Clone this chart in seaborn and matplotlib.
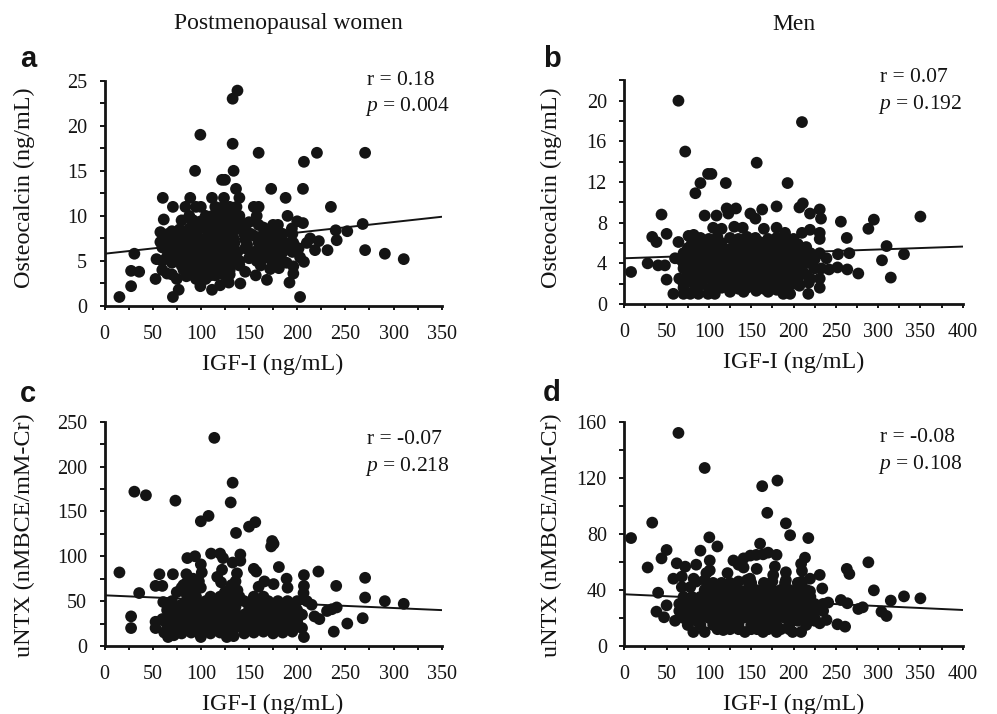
import matplotlib
matplotlib.use("Agg")
import matplotlib.pyplot as plt
import seaborn as sns
import pandas as pd
from matplotlib.ticker import MultipleLocator

# Panel a: postmenopausal women, osteocalcin vs IGF-I
a_igf = [15.5,27.6,27.6,36,31,53,54,58,58,61.5,
         60.5,71,71,77,89,94,99.5,133,138,133,
         160,134,122,125,136.5,140,111.6,124,173,188,
         206,207,220.5,270.5,235,190,268,240,252,241,
         270.5,291,310.6,203,192,231.5,222.5,213.5,210,218.5,
         207,203,201.5,206,200,194.5,196,196,189,181,
         174,172,168.6,157,162,150,146,141,129,120,
         111.6,99.5,
         84,95,100,115,123,130,137,155,160,
         88,92,105,112,120,128,135,140,158,
         100,108,118,125,132,138,160,165,175,180,
         70,80,85,95,110,120,130,145,152,170,178,185,195,
         62,68,75,82,90,98,105,115,125,135,160,172,180,188,196,
         70,78,85,92,100,110,118,128,138,155,165,175,185,195,
         72,85,92,100,108,115,122,132,140,165,
         60,65,82,90,98,105,112,120,130,140,
         75,85,95,105,115,125,70,
         80,90,100,110,120,130,140,150,
         78,88,96,106,116,126,136,146,
         74,84,94,104,114,124,134,146,166,176,
         66,82,96,106,114,124,132,146,168,182,192,
         76,88,96,104,112,120,128,136,172,180,
         80,88,96,104,112,120,128,
         90,100,110,120,130,
         148,152,158,162,155,165,170,178,185,190,60,65,70,60,66]
a_ost = [1.0,2.2,3.9,3.8,5.8,3.0,5.2,8.2,7.1,9.6,
         12,11,1.0,1.8,12,15,19,23,23.9,18,
         17,15,14,14,13,12,12,12,13,12,
         13,16,17,17,11,10,9.1,8.4,8.3,7.3,
         6.2,5.8,5.2,1.0,2.6,6.2,7.2,7.5,7.0,6.2,
         4.9,5.4,6.4,9.2,9.4,8.6,3.6,4.4,4.8,4.2,
         4.9,4.1,2.9,3.4,4.5,5.3,3.8,2.5,2.6,2.3,
         1.8,2.2,
         11,11,11,11,11,11,11,11,11,
         10,9.5,10,10,10,10,10,10,10,
         9,9,9,9,9,9,9,8.7,9,9,
         8.3,8,8.2,8,8,8,8,8,8,8,8,8,8,
         7,7,7,7,7,7,7,7,7,7,7,7,7,7,7,
         6,6,6,6,6,6,6,6,6,6,6,6,6,6,
         5,5,5,5,5,5,5,5,5,5.3,
         4,3.6,4,4,4,4,4,4,4,4.5,
         3,3.3,3,3,3.4,3.4,3.5,
         9.5,9.6,9.4,9.5,9.6,9.4,9.5,9.3,
         8.5,8.6,8.4,8.5,8.6,8.4,8.5,8.6,
         7.5,7.4,7.6,7.5,7.4,7.6,7.5,7.4,7.5,7.6,
         6.5,6.6,6.4,6.5,6.6,6.4,6.5,6.4,6.5,6.4,6.6,
         5.5,5.6,5.4,5.5,5.6,5.4,5.5,5.6,5.4,5.6,
         4.5,4.6,4.4,4.5,4.6,4.4,4.5,
         3.5,3.6,3.4,3.6,3.5,
         6.8,5.5,5,6,7.8,8,6.5,5.5,5,6.5,6.5,5.5,4.8,5,8]

# Panel b: men, osteocalcin vs IGF-I
b_igf = [8,27.6,40,48,38,33,44,50,50,58,
         64,72,84,90,99,103,120,156.5,193,210,
         207,211,180,163,149,155,121,132,123,95,
         109,219.5,231,232.5,256,263,288.5,295,350,310,
         330.6,304.6,315,276.6,263.6,252,242,233,231,231,
         217.5,218,207,196,188,266,252.6,239,231,231,
         231,219.5,210,70,78,87.5,99,107,64,76,82,
         105,115,130,140,165,180,190,
         90,100,110,125,135,145,155,170,180,190,200,
         75,85,95,105,115,125,135,145,155,165,175,185,195,205,215,
         60,66,75,85,95,105,115,125,135,145,155,165,175,185,195,205,215,225,
         70,80,90,100,110,120,130,140,150,160,170,180,190,200,210,225,
         65,75,85,95,105,115,125,135,145,155,165,175,185,195,205,220,
         70,85,100,115,125,135,145,155,165,175,185,
         125,141,156,170,180,
         80,95,105,115,130,140,150,160,175,185,195,205,
         70,80,90,100,110,120,130,140,150,160,170,180,190,200,210,220,
         70,80,90,100,110,120,130,140,150,160,170,180,190,200,210,220,
         75,85,95,105,115,125,135,145,155,165,175,185,195,205,215,
         70,80,90,105,120,130,140,150,160,170,180,190,200]
b_ost = [3.15,4,3.8,3.8,6.1,6.6,8.8,6.9,2.4,1,
         20,15,10.9,11.9,12.8,12.8,11.9,13.9,11.9,17.9,
         9.5,9.9,9.6,9.3,8.9,8.4,9.4,9.4,8.9,8.7,
         8.7,8.9,9.3,8.4,8.1,6.5,7.4,8.3,8.6,5.7,
         4.9,4.3,2.6,3,3.4,3.6,3.4,3.5,2.5,1.6,
         1,2.1,1.8,1,1,5,4.9,4.5,5,7,
         6.4,7.3,7,1,1,1,1,1,6.1,6.7,6.8,
         7.5,7.4,7.6,7.5,7.4,7.5,7,
         6.5,6.4,6.6,6.5,6.4,6.6,6.5,6.4,6.5,6.6,6.4,
         5.5,5.6,5.4,5.5,5.6,5.4,5.5,5.6,5.4,5.5,5.6,5.5,5.4,5.5,5.6,
         4.5,4.4,4.5,4.6,4.5,4.4,4.5,4.6,4.5,4.4,4.5,4.6,4.5,4.4,4.5,4.6,4.5,4.4,
         3.5,3.6,3.4,3.5,3.6,3.4,3.5,3.6,3.4,3.5,3.6,3.4,3.5,3.6,3.4,3.5,
         2.5,2.6,2.4,2.5,2.6,2.4,2.5,2.6,2.4,2.5,2.6,2.4,2.5,2.6,2.4,2.5,
         1.6,1.7,1.5,1.6,1.7,1.5,1.6,1.7,1.5,1.6,1.7,
         1.2,1.2,1.3,1.2,1.4,
         6,6.1,5.9,6,6.1,5.9,6,6.1,5.9,6,6.1,5.9,
         5,5.1,4.9,5,5.1,4.9,5,5.1,4.9,5,5.1,4.9,5,5.1,4.9,5,
         4,4.1,3.9,4,4.1,3.9,4,4.1,3.9,4,4.1,3.9,4,4.1,3.9,4,
         3,3.1,2.9,3,3.1,2.9,3,3.1,2.9,3,3.1,2.9,3,3.1,2.9,
         2,2.1,1.9,2,2.1,1.9,2,2.1,1.9,2,2.1,1.9,2]

# Panel c: postmenopausal women, uNTX vs IGF-I
c_igf = [15.5,27.6,27.6,31,43,73.6,36,114,133,131,
         100,108,136.5,150,156.5,174,175.5,173,181,189,
         190,207,207,206.6,222,240.5,270.5,270.5,291,310.6,
         268,252,238,241,236,231,223,218,215,207,
         86,94,110.6,120,123,141,133,141,155,157.5,
         166,160,175.5,57,71,53,60,61,53,53,
         66,72,100,127,134,100,101,117,122,121,
         137.5,136,129,
         85,92,85,95,80,90,100,75,85,95,
         70,85,95,105,115,125,135,145,160,170,180,190,200,210,
         65,75,85,95,105,115,125,135,150,160,170,180,190,200,
         60,70,80,90,100,110,120,130,140,150,160,170,180,190,200,
         65,75,85,95,105,115,125,135,145,155,165,175,185,195,205,
         110,120,130,140,155,165,
         65,72,80,88,96,104,112,120,128,136,146,156,166,176,186,196,
         70,80,88,96,104,112,120,128,136,145,165,175,185,195,
         72,80,88,96,104,112,120,128,136,155,175,185,195,
         62,70,80,90,100,110,120,130,145,155,165,175,185,195,
         82,90,98,125,132,130,138,
         75,68,62,145,150,170,155,165,200,205]
c_ntx = [82,33,20,172,168,162,59,232,182,160,
         139,145,126,133,138,117,114,111,88,75,
         65,79,67,59,83,67,76,54,50,47,
         31,25,16,43,41,39,30,33,46,10,
         98,100,103,103,98,102,93,95,86,83,
         72,66,69,80,80,67,67,49,20,27,
         10,12,10,10,11,91,82,77,85,71,
         81,72,62,
         80,75,70,70,65,62,65,60,58,55,
         50,50,50,50,50,50,50,50,50,50,50,50,50,50,
         40,40,40,40,40,40,40,40,40,40,40,40,40,40,
         30,30,30,30,30,30,30,30,30,30,30,30,30,30,30,
         20,20,20,20,20,20,20,20,20,20,20,20,20,20,20,
         55,55,55,55,55,55,
         25,26,24,25,26,24,25,26,24,25,26,24,25,26,24,25,
         35,36,34,35,36,34,35,36,34,35,36,34,35,36,
         45,46,44,45,46,44,45,46,44,45,46,44,45,
         15,16,14,15,16,14,15,16,14,15,16,14,15,16,
         68,66,72,60,68,60,62,
         30,22,28,28,45,30,36,42,26,35]

# Panel d: men, uNTX vs IGF-I
d_igf = [8,33,27.6,44,50,64,95,163,181,169,
         191,196,217.5,100.5,90,110,160.5,40,38,47,
         50,62,72,85,101,97,101,58,68,82,
         68,78,129,135,141,141,149,156,164,170,
         180,156.5,148.6,178,176,191,191,122,213.6,209,
         210,231,219.5,210,234,219.5,263,266,288.5,295,
         315,330.6,350,304,310,276.6,281.8,256,263.6,241,
         252,261,239,231,209,199,81.6,95,117,142.6,
         164,180,60,
         105,115,125,150,165,190,205,
         95,105,115,125,135,145,155,165,175,185,195,205,215,
         70,80,90,100,110,120,130,140,150,160,170,180,190,200,210,220,
         65,75,85,95,105,115,125,135,145,155,165,175,185,195,205,215,225,235,
         65,75,85,95,105,115,125,135,145,155,165,175,185,195,205,215,225,235,
         70,80,90,100,110,120,130,140,150,160,170,180,190,200,210,225,
         75,90,105,120,135,150,165,180,195,215,
         110,125,135,150,157,170,185,195,
         85,95,135,145,175,
         75,95,115,135,155,175,195,215,
         80,100,120,140,160,180,200,220,
         85,105,125,145,165,185,205,225,
         85,110,130,155,175,205,225]
d_ntx = [77,88,56,62.5,68.5,152,127,114,118,95,
         87.5,79,77,77.5,68,71,73,38,24.5,20.5,
         29,59,56.6,58,61,52,54,48,49.5,48,
         42,42,61,58,56,62.5,64.5,65,65.4,66.6,
         65,55,48,56.7,50.6,52.6,47,52,63,58.6,
         53.6,50.7,48,46,41,39,55,51.4,59.7,39.7,
         32.4,35.4,34,24.5,21.4,26.4,27.6,32.8,30.5,31,
         15.5,13.8,18.6,16.2,10,10,10,10,11.4,10,
         10,10,18,
         45,45,45,45,45,45,45,
         40,40,40,40,40,40,40,40,40,40,40,40,40,
         35,35,35,35,35,35,35,35,35,35,35,35,35,35,35,35,
         30,30,30,30,30,30,30,30,30,30,30,30,30,30,30,30,30,30,
         25,25,25,25,25,25,25,25,25,25,25,25,25,25,25,25,25,25,
         20,20,20,20,20,20,20,20,20,20,20,20,20,20,20,20,
         15,15,15,15,15,15,15,15,15,15,
         12,12,12,12,12,12,12,12,
         46,47,46,47,46,
         33,33,33,33,33,33,33,33,
         22,22,22,22,22,22,22,22,
         28,28,28,28,28,28,28,28,
         18,18,18,18,18,18,18]

# Regression lines (end points)
women_line_x = [0, 350]
men_line_x = [0, 400]
a_line_y = [5.8, 9.9]
b_line_y = [4.5, 5.65]
c_line_y = [56.5, 40]
d_line_y = [36.9, 25.7]

panel_letters = ["a", "b", "c", "d"]
r_texts = ["r = 0.18", "r = 0.07", "r = -0.07", "r = -0.08"]
p_values = ["0.004", "0.192", "0.218", "0.108"]
ost_label = "Osteocalcin (ng/mL)"
ntx_label = "uNTX (nMBCE/mM-Cr)"
igf_label = "IGF-I (ng/mL)"

sns.set_style("ticks")
plt.rcParams["font.family"] = ["Liberation Serif", "DejaVu Serif"]
plt.rcParams["mathtext.fontset"] = "custom"
plt.rcParams["mathtext.rm"] = "Liberation Serif"
plt.rcParams["mathtext.it"] = "Liberation Serif:italic"

W, H = 997, 714
fig = plt.figure(figsize=(W / 100, H / 100), dpi=100, facecolor="white")
INK = "#141414"
TICK_FS, LABEL_FS, NOTE_FS, TITLE_FS = 14.5, 17.4, 15.5, 17


def panel(box, x, y, line_x, line_y, xmax, ymax, xmaj, xmin, ymaj, ymin, ylabel,
          letter, letter_xy, r, p, note_x, r_y, p_y, ylabel_xy):
    l, t, r_px, b = box
    ax = fig.add_axes([l / W, 1 - b / H, (r_px - l) / W, (b - t) / H])
    df = pd.DataFrame({"x": x, "y": y})
    sns.scatterplot(data=df, x="x", y="y", ax=ax, s=72, color=INK, edgecolor="none",
                    linewidth=0, clip_on=False, zorder=3)
    sns.lineplot(x=line_x, y=line_y, ax=ax, color=INK, linewidth=1.4, zorder=4,
                 errorbar=None)
    ax.set_xlim(0, xmax)
    ax.set_ylim(0, ymax)
    ax.xaxis.set_major_locator(MultipleLocator(xmaj))
    ax.xaxis.set_minor_locator(MultipleLocator(xmin))
    ax.yaxis.set_major_locator(MultipleLocator(ymaj))
    ax.yaxis.set_minor_locator(MultipleLocator(ymin))
    ax.tick_params(axis="x", which="both", length=3, width=1.4, color=INK)
    ax.tick_params(axis="y", which="both", length=3.6, width=1.4, color=INK)
    ax.tick_params(axis="x", which="major", labelsize=TICK_FS, labelcolor=INK, pad=11)
    ax.tick_params(axis="y", which="major", labelsize=TICK_FS, labelcolor=INK, pad=9)
    ax.patch.set_alpha(0)
    sns.despine(ax=ax)
    for s in ("left", "bottom"):
        ax.spines[s].set_linewidth(2.0)
        ax.spines[s].set_color(INK)
    ax.set_xlabel(igf_label, fontsize=LABEL_FS, color=INK, labelpad=6.5)
    ax.set_ylabel(ylabel, fontsize=LABEL_FS, color=INK, va="center")
    ax.yaxis.set_label_coords((ylabel_xy[0] - l) / (r_px - l), (b - ylabel_xy[1]) / (b - t))
    fig.text(letter_xy[0] / W, 1 - letter_xy[1] / H, letter, family="Liberation Sans",
             weight="bold", fontsize=21, ha="center", va="center", color=INK)
    fig.text(note_x / W, 1 - r_y / H, r, fontsize=NOTE_FS, va="center", color=INK)
    fig.text((note_x - 2) / W, 1 - p_y / H, rf"$\mathit{{p}}$ = {p}", fontsize=NOTE_FS,
             va="center", color=INK)


panel((104.5, 80.7, 441.7, 306), a_igf, a_ost, women_line_x, a_line_y, 350, 25, 50, 25, 5, 2.5,
      ost_label, panel_letters[0], (28, 59), r_texts[0], p_values[0], 367, 80.7, 106.7, (24, 188))
panel((624.3, 80.4, 962.7, 304), b_igf, b_ost, men_line_x, b_line_y, 400, 22, 50, 25, 4, 2,
      ost_label, panel_letters[1], (552, 59), r_texts[1], p_values[1], 880, 78, 104, (551, 188))
panel((104.5, 421.7, 441.7, 646), c_igf, c_ntx, women_line_x, c_line_y, 350, 250, 50, 25, 50, 25,
      ntx_label, panel_letters[2], (28, 394), r_texts[2], p_values[2], 367, 440, 467, (24, 535))
panel((624.3, 421.7, 962.7, 646), d_igf, d_ntx, men_line_x, d_line_y, 400, 160, 50, 25, 40, 20,
      ntx_label, panel_letters[3], (552, 393), r_texts[3], p_values[3], 880, 437, 464, (551, 535))

fig.text(288 / W, 1 - 24 / H, "Postmenopausal women", fontsize=TITLE_FS, ha="center", va="center", color=INK)
fig.text(794 / W, 1 - 24 / H, "Men", fontsize=TITLE_FS, ha="center", va="center", color=INK)

fig.savefig("out.png", dpi=100, facecolor="white")
